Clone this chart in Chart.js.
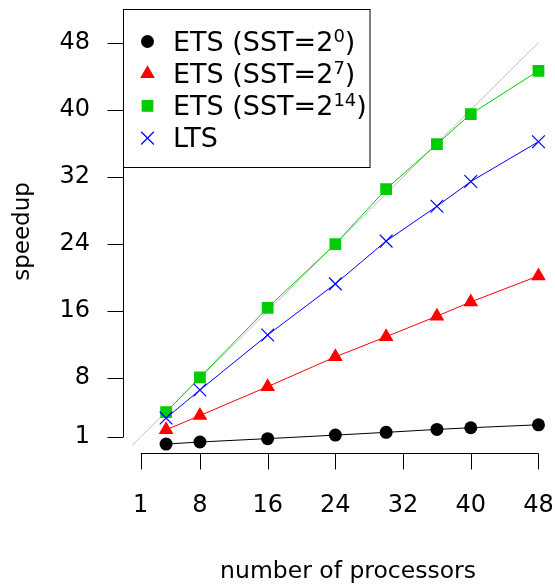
<!DOCTYPE html>
<html>
<head>
<meta charset="utf-8">
<script src="https://cdn.jsdelivr.net/npm/chart.js@4.4.1/dist/chart.umd.min.js"></script>
<style>
  html, body { margin: 0; padding: 0; overflow: hidden; background: #fff; }
  /* the original plot region runs past the right edge of the picture */
  #wrap { width: 555px; height: 587px; overflow: hidden; position: relative; }
  #chart { position: absolute; left: 0; top: 0; }
</style>
</head>
<body>
<div id="wrap"><canvas id="chart" width="572" height="587"></canvas></div>
<script>
// speedup.js

const processors = [4, 8, 16, 24, 30, 36, 40, 48];
const ets0 = [0.15, 0.4, 0.8, 1.22, 1.55, 1.9, 2.1, 2.45];
const ets7 = [1.85, 3.55, 7.0, 10.55, 12.95, 15.4, 17.1, 20.2];
const ets14 = [3.95, 8.1, 16.4, 24.0, 30.55, 35.9, 39.5, 44.65];
const lts = [3.25, 6.6, 13.15, 19.25, 24.35, 28.5, 31.45, 36.2];
const idealLine = [0, 48]; // y = x reference
const axisTicks = [1, 8, 16, 24, 32, 40, 48];
const seriesLabels = ["ETS (SST=2^0)", "ETS (SST=2^7)", "ETS (SST=2^14)", "LTS"];

const FONT = "DejaVu Sans";

function series(label, values, color, style, radius, order) {
    return {
        label: label,
        data: processors.map((p, i) => ({ x: p, y: values[i] })),
        showLine: true,
        borderColor: color,
        backgroundColor: color,
        borderWidth: 1,
        pointStyle: style,
        pointRadius: radius,
        pointBackgroundColor: color,
        pointBorderColor: color,
        pointBorderWidth: style === "crossRot" ? 1.2 : 0,
        order: order
    };
}

const datasets = [
    series(seriesLabels[0], ets0, "#000000", "circle", 6.5, 4),
    series(seriesLabels[1], ets7, "#FF0000", "triangle", 8.5, 3),
    series(seriesLabels[2], ets14, "#00CD00", "rect", 8.3, 2),
    series(seriesLabels[3], lts, "#0000FF", "crossRot", 9, 1),
    {
        label: "ideal",
        data: idealLine.map(v => ({ x: v, y: v })),
        showLine: true,
        borderColor: "#BEBEBE",
        borderWidth: 1,
        pointRadius: 0,
        order: 5
    }
];

// R style axes: line from first to last tick, ticks pointing outwards
const rAxes = {
    id: "rAxes",
    afterDraw(chart) {
        const { ctx, chartArea, scales } = chart;
        const x = scales.x, y = scales.y;
        const tickLen = 16;
        ctx.save();
        ctx.strokeStyle = "#000";
        ctx.lineWidth = 1;
        ctx.beginPath();
        const ax = Math.round(chartArea.left) - 0.5;
        ctx.moveTo(ax, y.getPixelForValue(axisTicks[0]));
        ctx.lineTo(ax, y.getPixelForValue(axisTicks[axisTicks.length - 1]));
        axisTicks.forEach(v => {
            const py = Math.round(y.getPixelForValue(v)) + 0.5;
            ctx.moveTo(ax, py);
            ctx.lineTo(ax - tickLen, py);
        });
        const ay = Math.round(chartArea.bottom) + 0.5;
        ctx.moveTo(x.getPixelForValue(axisTicks[0]), ay);
        ctx.lineTo(x.getPixelForValue(axisTicks[axisTicks.length - 1]), ay);
        axisTicks.forEach(v => {
            const px = Math.round(x.getPixelForValue(v)) + 0.5;
            ctx.moveTo(px, ay);
            ctx.lineTo(px, ay + tickLen);
        });
        ctx.stroke();
        ctx.restore();
    }
};

function drawLabel(ctx, text, x, y) {
    // "^digits" is drawn as a superscript
    const parts = text.split(/\^(\d+)/);
    parts.forEach((p, i) => {
        const sup = i % 2 === 1;
        ctx.font = (sup ? "18px" : "27px") + " '" + FONT + "'";
        ctx.fillText(p, x, sup ? y - 9 : y);
        x += ctx.measureText(p).width;
    });
}

// boxed legend in the top left corner of the plot region
const boxLegend = {
    id: "boxLegend",
    afterDraw(chart) {
        const { ctx, chartArea } = chart;
        const left = Math.round(chartArea.left) - 0.5;
        const top = Math.round(chartArea.top) - 0.5;
        ctx.save();
        ctx.fillStyle = "#fff";
        ctx.fillRect(left, top, 246.5, 158);
        ctx.strokeStyle = "#000";
        ctx.lineWidth = 1;
        ctx.strokeRect(left, top, 246.5, 158);
        seriesLabels.forEach((label, i) => {
            const ds = chart.data.datasets[i];
            const base = top + 41 + i * 32.2;
            ctx.fillStyle = ds.pointBackgroundColor;
            ctx.strokeStyle = ds.pointBorderColor;
            ctx.lineWidth = ds.pointBorderWidth;
            Chart.helpers.drawPoint(ctx, {
                pointStyle: ds.pointStyle,
                radius: ds.pointRadius,
                borderWidth: ds.pointBorderWidth,
                rotation: 0
            }, left + 24, base - 9);
            ctx.fillStyle = "#000";
            ctx.textBaseline = "alphabetic";
            ctx.textAlign = "left";
            drawLabel(ctx, label, left + 49.5, base);
        });
        ctx.restore();
    }
};

const setTicks = s => { s.ticks = axisTicks.map(v => ({ value: v })); };

new Chart(document.getElementById("chart"), {
    type: "scatter",
    data: { datasets: datasets },
    plugins: [rAxes, boxLegend],
    options: {
        responsive: false,
        devicePixelRatio: 1,
        animation: false,
        layout: { autoPadding: false, padding: { top: 9.5, left: 0, right: 0, bottom: 0 } },
        plugins: {
            legend: { display: false },
            tooltip: { enabled: false }
        },
        scales: {
            x: {
                type: "linear",
                min: -0.96,
                max: 51.96,
                afterBuildTicks: setTicks,
                afterFit: s => { s.height = 133.6; s.paddingLeft = 0; s.paddingRight = 0; },
                grid: { display: false, drawTicks: false },
                border: { display: false },
                ticks: { font: { family: FONT, size: 24 }, color: "#000", padding: 38, autoSkip: false, maxRotation: 0 },
                title: { display: true, text: "number of processors", color: "#000", font: { family: FONT, size: 23.5 }, padding: { top: 0, bottom: 1 } }
            },
            y: {
                type: "linear",
                min: -0.96,
                max: 51.96,
                afterBuildTicks: setTicks,
                afterFit: s => { s.width = 124.1; s.paddingTop = 0; s.paddingBottom = 0; },
                grid: { display: false, drawTicks: false },
                border: { display: false },
                ticks: { font: { family: FONT, size: 24 }, color: "#000", padding: 34, autoSkip: false },
                title: { display: true, text: "speedup", color: "#000", font: { family: FONT, size: 23 }, padding: { top: 9, bottom: 0 } }
            }
        }
    }
});
</script>
</body>
</html>
